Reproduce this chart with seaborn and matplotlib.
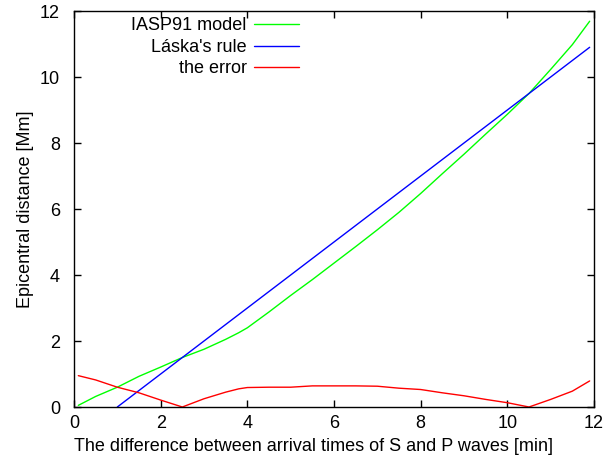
"""
IASP91 vs. Láska's rule: epicentral distance from S-P arrival time difference
"""
import pandas as pd
import matplotlib
matplotlib.use('Agg')
import matplotlib.pyplot as plt
import seaborn as sns

# S-P time difference [min]
t_min = [0.1, 0.5, 1.0, 1.5, 2.0, 2.5, 3.0, 3.5, 3.8, 4.0, 4.5, 5.0, 5.5,
         6.0, 6.5, 7.0, 7.5, 8.0, 8.5, 9.0, 9.5, 10.0, 10.5, 11.0, 11.5, 11.9]

# IASP91 model distance [Mm]
iasp91 = [0.05, 0.32, 0.60, 0.93, 1.21, 1.50, 1.75, 2.05, 2.25, 2.40, 2.88,
          3.38, 3.86, 4.36, 4.86, 5.37, 5.90, 6.47, 7.07, 7.66, 8.27, 8.87,
          9.50, 10.23, 10.98, 11.69]

# the error [Mm]
error = [0.95, 0.82, 0.60, 0.43, 0.21, 0.00, 0.25, 0.45, 0.55, 0.59, 0.60,
         0.60, 0.64, 0.64, 0.64, 0.63, 0.57, 0.53, 0.43, 0.34, 0.23, 0.13,
         0.00, 0.23, 0.48, 0.79]

# Láska's rule (straight line)
laska_t = [1.0, 11.9]
laska_d = [0.0, 10.9]

ticks = [0, 2, 4, 6, 8, 10, 12]

sns.set_theme(style='ticks')
plt.rcParams['font.family'] = ['Liberation Sans', 'DejaVu Sans']
plt.rcParams['text.color'] = 'black'
plt.rcParams['axes.labelcolor'] = 'black'

fig = plt.figure(figsize=(6.05, 4.68), dpi=100)
ax = fig.add_axes([74 / 605, 61 / 468, 520 / 605, 396 / 468])

model = pd.DataFrame({'t': t_min, 'd': iasp91})
rule = pd.DataFrame({'t': laska_t, 'd': laska_d})
err = pd.DataFrame({'t': t_min, 'd': error})

sns.lineplot(data=model, x='t', y='d', color='#00ff00', lw=1.0, ax=ax,
             label='IASP91 model', sort=False, estimator=None)
sns.lineplot(data=rule, x='t', y='d', color='#0000ff', lw=1.0, ax=ax,
             label="Láska's rule", sort=False, estimator=None)
sns.lineplot(data=err, x='t', y='d', color='#ff0000', lw=1.0, ax=ax,
             label='the error', sort=False, estimator=None)

ax.set_xlim(0, 12)
ax.set_ylim(0, 12)
ax.set_xticks(ticks)
ax.set_yticks(ticks)
ax.tick_params(direction='in', length=5, width=1, top=True, right=True,
               labelsize=13, colors='black')
ax.tick_params(axis='x', pad=6)
ax.tick_params(axis='y', pad=10)
for s in ax.spines.values():
    s.set_linewidth(1)
    s.set_color('black')

ax.set_xlabel('The difference between arrival times of S and P waves [min]',
              fontsize=13)
ax.xaxis.set_label_coords(0.4606, -0.078)
ax.set_ylabel('Epicentral distance [Mm]', fontsize=13, labelpad=4)

ax.legend(loc='upper right', bbox_to_anchor=(0.433, 0.984), frameon=False,
          markerfirst=False, fontsize=13, handlelength=2.5,
          handletextpad=0.4, labelspacing=0.25, borderpad=0, borderaxespad=0)

fig.savefig('out.png', dpi=100)
plt.close(fig)
